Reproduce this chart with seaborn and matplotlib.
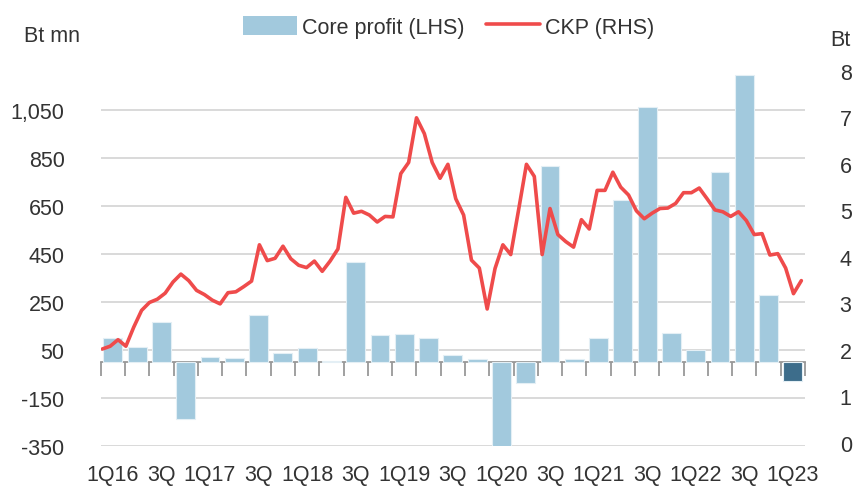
import matplotlib.pyplot as plt
import seaborn as sns
import pandas as pd
import numpy as np
from matplotlib.patches import Patch
from matplotlib.lines import Line2D

quarters = ['1Q16', '2Q16', '3Q16', '4Q16', '1Q17', '2Q17', '3Q17', '4Q17',
            '1Q18', '2Q18', '3Q18', '4Q18', '1Q19', '2Q19', '3Q19', '4Q19',
            '1Q20', '2Q20', '3Q20', '4Q20', '1Q21', '2Q21', '3Q21', '4Q21',
            '1Q22', '2Q22', '3Q22', '4Q22', '1Q23']
tick_labels = ['1Q16', '3Q', '1Q17', '3Q', '1Q18', '3Q', '1Q19', '3Q',
               '1Q20', '3Q', '1Q21', '3Q', '1Q22', '3Q', '1Q23']
core_profit = [100, 62, 167, -236, 22, 15, 197, 39, 57, 6, 417, 114, 118, 101,
               28, 14, -355, -86, 818, 12, 101, 676, 1061, 121, 50, 790, 1197,
               279, -78]
# CKP share price (Bt)
ckp = [2.02, 2.08, 2.22, 2.08, 2.49, 2.85, 3.02, 3.09, 3.22, 3.46,
       3.63, 3.49, 3.28, 3.19, 3.07, 2.99, 3.23, 3.25, 3.36, 3.48,
       4.26, 3.92, 3.97, 4.23, 3.96, 3.82, 3.77, 3.91, 3.69, 3.91,
       4.17, 5.28, 4.94, 4.98, 4.90, 4.75, 4.87, 4.86, 5.79, 6.03,
       6.99, 6.65, 6.03, 5.69, 5.99, 5.25, 4.90, 3.93, 3.76, 2.88,
       3.75, 4.26, 4.05, 5.01, 5.99, 5.73, 4.05, 5.04, 4.48, 4.33,
       4.21, 4.80, 4.60, 5.43, 5.43, 5.82, 5.50, 5.33, 4.99, 4.82,
       4.94, 5.04, 5.05, 5.15, 5.38, 5.38, 5.48, 5.25, 5.01, 4.97,
       4.87, 4.97, 4.78, 4.48, 4.50, 4.04, 4.07, 3.76, 3.21, 3.49]

light = '#a2c9dd'
dark = '#3d6d8b'
red = '#ef4b4b'
txt = '#333333'

sns.set_theme(style='white')
plt.rcParams['font.family'] = ['Liberation Sans', 'DejaVu Sans']

fig = plt.figure(figsize=(8.55, 4.89), dpi=100)
ax = fig.add_axes([0.1178, 0.0859, 0.8237, 0.7853])

df = pd.DataFrame({'quarter': quarters, 'core': core_profit})
bar_colors = [light] * (len(quarters) - 1) + [dark]
sns.barplot(data=df, x='quarter', y='core', hue='quarter', palette=bar_colors,
            saturation=1, width=0.78, edgecolor='#e4eff5', linewidth=0.8,
            legend=False, ax=ax)

ax.set_ylim(-350, 1250)
yt = list(range(-350, 1051, 200))
ax.set_yticks(yt)
ax.set_yticklabels([f'{v:,}' for v in yt])
ax.set_xticks(range(0, len(quarters), 2))
ax.set_xticklabels(tick_labels)
ax.grid(axis='y', color='#d0d0d0', linewidth=1.1)
ax.grid(axis='x', visible=False)
ax.set_axisbelow(True)
for s in ax.spines.values():
    s.set_visible(False)
ax.tick_params(axis='x', length=0, pad=13, labelsize=15.5, labelcolor=txt)
ax.tick_params(axis='y', length=0, pad=26, labelsize=15.5, labelcolor=txt)
ax.set_xlabel('')
ax.set_ylabel('')

# zero line with tick marks between quarters
sec = ax.secondary_xaxis(0, transform=ax.transData)
sec.set_xticks(np.arange(-0.5, len(quarters), 1))
sec.set_xticklabels([])
sec.tick_params(length=10, width=1.3, color='#999999', direction='out')
for s in sec.spines.values():
    s.set_visible(False)
sec.spines['bottom'].set_visible(True)
sec.spines['bottom'].set_color('#999999')
sec.spines['bottom'].set_linewidth(1.3)

ax2 = ax.twinx()
ckp_x = np.linspace(-0.434, 28.35, len(ckp))
sns.lineplot(x=ckp_x, y=ckp, ax=ax2, color=red, linewidth=2.6)
ax2.set_ylim(-0.065, 8.19)
ax2.set_yticks(range(0, 9))
ax2.grid(False)
for s in ax2.spines.values():
    s.set_visible(False)
ax2.tick_params(axis='y', length=0, pad=25, labelsize=15.5, labelcolor=txt)
ax2.set_ylabel('')
ax.set_xlim(-0.5, len(quarters) - 0.5)

handles = [Patch(facecolor=light, edgecolor='none'),
           Line2D([0], [0], color=red, linewidth=2.6)]
fig.legend(handles, ['Core profit (LHS)', 'CKP (RHS)'], loc='center',
           bbox_to_anchor=(0.525, 0.943), ncol=2, frameon=False, fontsize=15.5,
           handlelength=2.5, handleheight=1.0, handletextpad=0.25,
           columnspacing=1.0, labelcolor=txt)

fig.text(0.028, 0.926, 'Bt mn', fontsize=15.5, va='center', color=txt)
fig.text(0.971, 0.918, 'Bt', fontsize=15.5, va='center', color=txt)

fig.savefig('out.png', dpi=100)
plt.close()
